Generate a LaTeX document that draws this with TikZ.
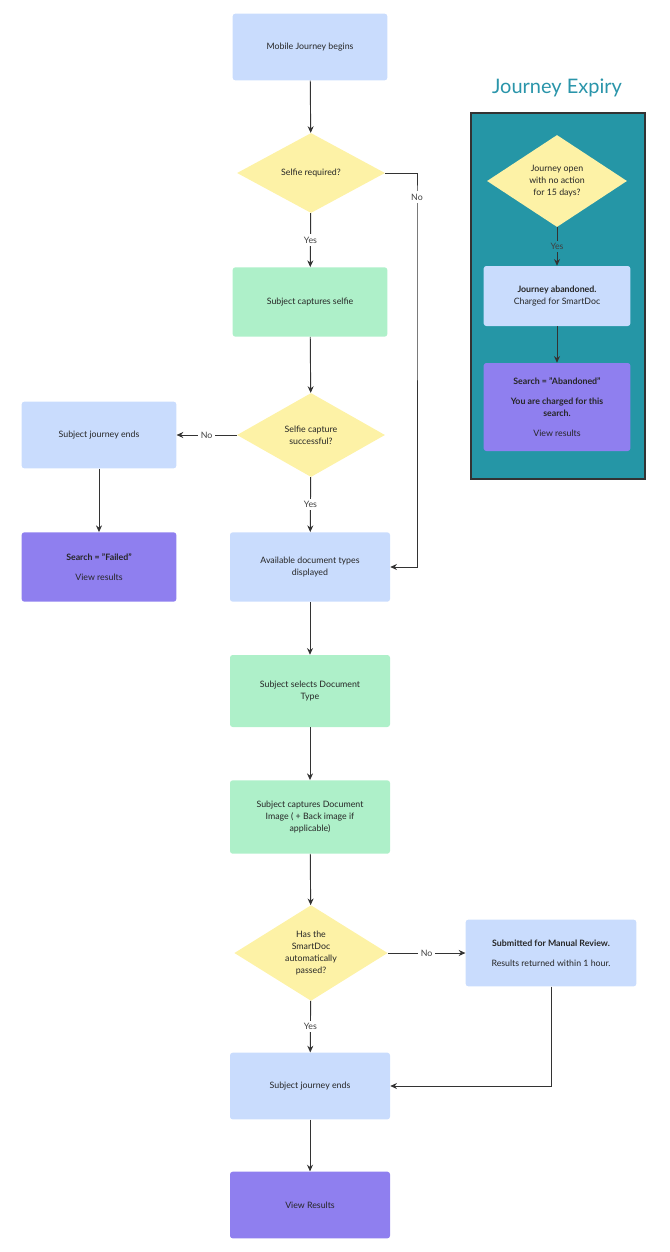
\documentclass[tikz,border=0pt]{standalone}
\usepackage{fontspec}
\setmainfont{Lato}
\usetikzlibrary{shapes.geometric,arrows.meta}
\definecolor{boxblue}{HTML}{C9DCFD}
\definecolor{boxgreen}{HTML}{AEF0C9}
\definecolor{boxyellow}{HTML}{FDF2A6}
\definecolor{boxpurple}{HTML}{8F7FEF}
\definecolor{panelteal}{HTML}{2596A6}
\definecolor{titleteal}{HTML}{2A95AA}
\definecolor{linegray}{HTML}{333333}
\tikzset{
  box/.style={rectangle, rounded corners=2pt, minimum width=116pt, minimum height=50pt, align=center, text=black!85, font=\fontsize{6.6}{9}\selectfont, inner sep=2pt},
  bluebox/.style={box, fill=boxblue},
  greenbox/.style={box, fill=boxgreen},
  purplebox/.style={box, fill=boxpurple},
  decision/.style={diamond, fill=boxyellow, minimum width=111pt, minimum height=60pt, inner sep=0pt, align=center, text=black!85, font=\fontsize{6.6}{9}\selectfont},
  flow/.style={-{Stealth[length=5pt,width=4.5pt]}, linegray, line width=0.7pt},
  lbl/.style={fill=white, inner sep=2pt, text=black!75, font=\fontsize{6.6}{8}\selectfont}
}
\begin{document}
\begin{tikzpicture}[x=0.75pt,y=-0.75pt]
\useasboundingbox (0,0) rectangle (670,1252);
% main column
\node[bluebox] (start) at (310,47) {Mobile Journey begins};
\node[decision, minimum height=60pt] (selfiereq) at (311,173) {Selfie required?};
\node[greenbox, minimum height=52pt] (capture) at (310,302) {Subject captures selfie};
\node[decision, minimum height=63pt] (selfieok) at (311,435) {Selfie capture\\successful?};
\node[bluebox] (endleft) at (99,435) {Subject journey ends};
\node[purplebox, minimum height=52pt] (failed) at (99,567) {\textbf{Search = "Failed"}\\[6pt]View results};
\node[bluebox, minimum width=120pt, minimum height=52pt] (doctypes) at (310,567) {Available document types\\displayed};
\node[greenbox, minimum width=120pt, minimum height=54pt] (select) at (310,691) {Subject selects Document\\Type};
\node[greenbox, minimum width=120pt, minimum height=55pt] (docimg) at (310,817) {Subject captures Document\\Image ( + Back image if\\applicable)};
\node[decision, minimum width=115pt, minimum height=70pt] (passed) at (311,953) {Has the\\SmartDoc\\automatically\\passed?};
\node[bluebox, minimum width=128pt] (manual) at (551,953) {\textbf{Submitted for Manual Review.}\\[6pt]Results returned within 1 hour.};
\node[bluebox, minimum width=120pt] (endmain) at (310,1086) {Subject journey ends};
\node[purplebox, minimum width=120pt] (results) at (310,1205) {View Results};
% expiry panel
\node[text=titleteal, font=\fontsize{15}{18}\selectfont] (title) at (557,88) {Journey Expiry};
\draw[fill=panelteal, draw=black!80, line width=0.8pt] (471,113) rectangle (645,479);
\node[decision, minimum width=105pt, minimum height=69pt] (expired) at (557,181) {Journey open\\with no action\\for 15 days?};
\node[bluebox, minimum width=110pt, minimum height=45pt] (abandoned) at (557,296) {\textbf{Journey abandoned.}\\Charged for SmartDoc};
\node[purplebox, minimum width=110pt, minimum height=66pt] (abansearch) at (557,407) {\textbf{Search = "Abandoned"}\\[6pt]\textbf{You are charged for this}\\\textbf{search.}\\[6pt]View results};
% connectors
\draw[flow] (start) -- (selfiereq);
\draw[flow] (selfiereq) -- node[lbl]{Yes} (capture);
\draw[flow] (selfiereq.east) -| (417,197) node[lbl]{No} |- (doctypes.east);
\draw[flow] (capture) -- (selfieok);
\draw[flow] (selfieok) -- node[lbl]{No} (endleft);
\draw[flow] (selfieok) -- node[lbl]{Yes} (doctypes);
\draw[flow] (endleft) -- (failed);
\draw[flow] (doctypes) -- (select);
\draw[flow] (select) -- (docimg);
\draw[flow] (docimg) -- (passed);
\draw[flow] (passed) -- node[lbl]{No} (manual);
\draw[flow] (passed) -- node[lbl]{Yes} (endmain);
\draw[flow] (manual.south) |- (endmain.east);
\draw[flow] (endmain) -- (results);
\draw[flow] (expired) -- node[lbl, fill=panelteal]{Yes} (abandoned);
\draw[flow] (abandoned) -- (abansearch);
\end{tikzpicture}
\end{document}
